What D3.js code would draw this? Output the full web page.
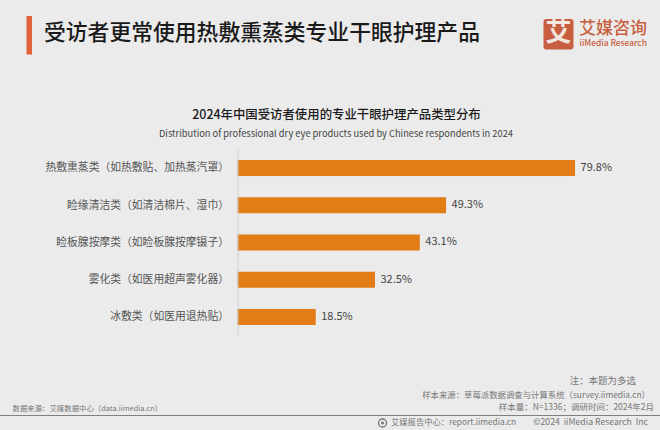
<!DOCTYPE html>
<html>
<head>
<meta charset="utf-8">
<title>受访者更常使用热敷熏蒸类专业干眼护理产品</title>
<script src="https://d3js.org/d3.v7.min.js"></script>
<style>
  html, body { margin: 0; padding: 0; background: #ebebeb; }
  svg { display: block; font-family: "Noto Sans CJK SC", "Noto Sans", sans-serif; }
  .axis text { font-size: 10.8px; fill: #555; font-family: "Noto Sans CJK SC", sans-serif; }
  .axis path { stroke: #cfcfcf; }
  .val { font-size: 11px; fill: #444; }
  .foot { fill: #777; white-space: pre; }
</style>
</head>
<body>
<svg id="chart" width="660" height="430"></svg>
<script>
const categories = [
  "热敷熏蒸类（如热敷贴、加热蒸汽罩）",
  "睑缘清洁类（如清洁棉片、湿巾）",
  "睑板腺按摩类（如睑板腺按摩镊子）",
  "雾化类（如医用超声雾化器）",
  "冰敷类（如医用退热贴）"
];
const shares = [79.8, 49.3, 43.1, 32.5, 18.5];

const title = "受访者更常使用热敷熏蒸类专业干眼护理产品";
const chartTitle = "2024年中国受访者使用的专业干眼护理产品类型分布";
const chartSubtitle = "Distribution of professional dry eye products used by Chinese respondents in 2024";
const noteText = "注：本题为多选";
const sampleSource = "样本来源：草莓派数据调查与计算系统（survey.iimedia.cn）";
const sampleSize = "样本量：N=1336；调研时间：2024年2月";
const sourceLeft = "数据来源：艾媒数据中心（data.iimedia.cn）";
const footerCenter = "艾媒报告中心：report.iimedia.cn";
const footerRight = "©2024  iiMedia Research  Inc";

const svg = d3.select("#chart");

//--- Scales
const x = d3.scaleLinear().domain([0, 100]).range([237.5, 660.5]);
const y = d3.scaleBand().domain(categories).range([149.4, 335.6]).paddingInner(0.57).paddingOuter(0.285);

//--- Header
svg.append("rect").attr("x", 26.5).attr("y", 16).attr("width", 5.5).attr("height", 38.5).attr("fill", "#e0633a");
svg.append("text").attr("x", 44).attr("y", 34).attr("dominant-baseline", "middle")
  .attr("font-size", 21.8).attr("font-weight", 500).attr("fill", "#1a1a1a").text(title);

//--- Logo
const logo = svg.append("g");
logo.append("rect").attr("x", 543.5).attr("y", 19).attr("width", 30).attr("height", 30.5).attr("rx", 3).attr("fill", "#c95f41");
logo.append("text").attr("x", 558.5).attr("y", 34).attr("text-anchor", "middle").attr("dominant-baseline", "middle")
  .attr("font-size", 26).attr("font-weight", 700).attr("fill", "#f1e6e0").text("艾");
logo.append("text").attr("x", 579).attr("y", 29.5).attr("dominant-baseline", "middle")
  .attr("font-size", 17).attr("font-weight", 500).attr("fill", "#c95f41").text("艾媒咨询");
logo.append("text").attr("x", 579.5).attr("y", 43.5).attr("dominant-baseline", "middle")
  .attr("font-size", 8.4).attr("font-weight", 500).attr("fill", "#c95f41").text("iiMedia Research");

//--- Chart titles
svg.append("text").attr("x", 336.5).attr("y", 115.5).attr("text-anchor", "middle").attr("dominant-baseline", "middle")
  .attr("font-size", 12.4).attr("font-weight", 500).attr("fill", "#1a1a1a").text(chartTitle);
svg.append("text").attr("x", 336).attr("y", 134.5).attr("text-anchor", "middle").attr("dominant-baseline", "middle")
  .attr("font-size", 9.3).attr("fill", "#444").text(chartSubtitle);

//--- Bars
svg.append("g").selectAll("rect")
  .data(shares)
  .join("rect")
    .attr("x", x(0))
    .attr("y", (d, i) => y(categories[i]))
    .attr("width", d => x(d) - x(0))
    .attr("height", y.bandwidth())
    .attr("fill", "#e27c16");

//--- Value labels
svg.append("g").selectAll("text")
  .data(shares)
  .join("text")
    .attr("class", "val")
    .attr("x", d => x(d) + 5.5)
    .attr("y", (d, i) => y(categories[i]) + y.bandwidth() / 2)
    .attr("dominant-baseline", "middle")
    .text(d => d.toFixed(1) + "%");

//--- Category axis
svg.append("g")
  .attr("class", "axis")
  .attr("transform", "translate(" + x(0) + ",0)")
  .call(d3.axisLeft(y).tickSize(0).tickPadding(8.5));

//--- Notes and footer
function footText(str, px, py, anchor, size) {
  svg.append("text").attr("class", "foot")
    .attr("x", px).attr("y", py)
    .attr("text-anchor", anchor)
    .attr("dominant-baseline", "middle")
    .attr("font-size", size)
    .text(str);
}
footText(noteText, 636, 381.5, "end", 9.5);
footText(sampleSource, 650, 396, "end", 8.4);
footText(sampleSize, 654, 407.5, "end", 8.5);
footText(sourceLeft, 12.5, 409, "start", 7.4);
footText(footerCenter, 391, 423, "start", 8.3);
footText(footerRight, 648, 423, "end", 8.7);

svg.append("line").attr("x1", 0).attr("x2", 660).attr("y1", 415.5).attr("y2", 415.5)
  .attr("stroke", "#808080").attr("stroke-width", 1);

//--- Small globe icon in the footer
svg.append("circle").attr("cx", 382.5).attr("cy", 423).attr("r", 4)
  .attr("fill", "none").attr("stroke", "#777").attr("stroke-width", 1.3);
svg.append("circle").attr("cx", 382.5).attr("cy", 423).attr("r", 1.5).attr("fill", "#777");
</script>
</body>
</html>
